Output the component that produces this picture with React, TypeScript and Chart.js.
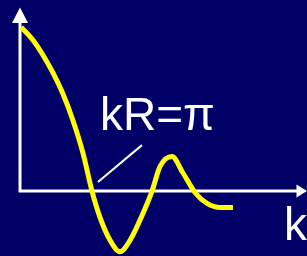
import React, { useEffect, useRef } from "react";
import { Chart, registerables } from "chart.js";

Chart.register(...registerables);

// kR values (first zero at π) and amplitude
const kR = [0.05, 0.57, 1.0, 1.44, 1.88, 2.31, 2.75, 3.14, 3.49, 3.93, 4.36, 4.8, 5.32, 5.76, 6.11, 6.63, 7.11, 7.64, 8.16, 8.73, 9.29];
const amplitude = [1.0, 0.92, 0.83, 0.72, 0.59, 0.43, 0.23, 0, -0.16, -0.3, -0.37, -0.3, -0.15, 0, 0.15, 0.21, 0.11, -0.01, -0.075, -0.1, -0.1];

const X_MIN = -0.873;
const X_MAX = 12.52;
const Y_MIN = -0.396;
const Y_MAX = 1.165;
const Y_AXIS_TOP = 1.119;

const labelText = "kR=π";
const labelPos = [3.49, 0.372];
const pointerFrom = [5.32, 0.28];
const pointerTo = [3.4, 0.055];
const axisLabel = "k";
const axisLabelPos = [11.52, -0.3];

const BG = "#000066";
const FONT = "46px 'Liberation Sans', Arial, sans-serif";

export default function App() {
  const ref = useRef<HTMLCanvasElement>(null);
  useEffect(() => {
    const canvas = ref.current!;
    const bgPlugin = {
      id: "bg",
      beforeDraw(chart: any) {
        const c = chart.ctx;
        c.save();
        c.fillStyle = BG;
        c.fillRect(0, 0, chart.width, chart.height);
        c.restore();
      },
    };
    const axesPlugin = {
      id: "axes",
      beforeDatasetsDraw(chart: any) {
        const c = chart.ctx;
        const xs = chart.scales.x;
        const ys = chart.scales.y;
        const x0 = xs.getPixelForValue(0);
        const y0 = ys.getPixelForValue(0);
        const xEnd = xs.getPixelForValue(X_MAX);
        const yTop = ys.getPixelForValue(Y_AXIS_TOP);
        c.save();
        c.strokeStyle = "#ffffff";
        c.fillStyle = "#ffffff";
        c.lineWidth = 3;
        c.beginPath();
        c.moveTo(x0, yTop + 12);
        c.lineTo(x0, y0);
        c.lineTo(xEnd - 8, y0);
        c.stroke();
        c.beginPath();
        c.moveTo(x0, yTop);
        c.lineTo(x0 - 8, yTop + 15.5);
        c.lineTo(x0 + 8, yTop + 15.5);
        c.closePath();
        c.fill();
        c.beginPath();
        c.moveTo(xEnd, y0);
        c.lineTo(xEnd - 10.5, y0 - 6.5);
        c.lineTo(xEnd - 10.5, y0 + 6.5);
        c.closePath();
        c.fill();
        c.restore();
      },
      afterDraw(chart: any) {
        const c = chart.ctx;
        const xs = chart.scales.x;
        const ys = chart.scales.y;
        c.save();
        c.strokeStyle = "#ffffff";
        c.lineWidth = 2;
        c.beginPath();
        c.moveTo(xs.getPixelForValue(pointerFrom[0]), ys.getPixelForValue(pointerFrom[1]));
        c.lineTo(xs.getPixelForValue(pointerTo[0]), ys.getPixelForValue(pointerTo[1]));
        c.stroke();
        c.fillStyle = "#ffffff";
        c.font = FONT;
        c.textBaseline = "alphabetic";
        c.textAlign = "left";
        c.fillText(labelText, xs.getPixelForValue(labelPos[0]), ys.getPixelForValue(labelPos[1]));
        c.fillText(axisLabel, xs.getPixelForValue(axisLabelPos[0]), ys.getPixelForValue(axisLabelPos[1]));
        c.restore();
      },
    };
    const chart = new Chart(canvas, {
      type: "line",
      data: {
        datasets: [
          {
            data: kR.map((x, i) => ({ x, y: amplitude[i] })),
            borderColor: "#ffff00",
            borderWidth: 5,
            pointRadius: 0,
            cubicInterpolationMode: "monotone",
            fill: false,
          },
        ],
      },
      options: {
        animation: false,
        responsive: false,
        maintainAspectRatio: false,
        layout: { padding: 0 },
        plugins: { legend: { display: false }, tooltip: { enabled: false } },
        scales: {
          x: { type: "linear", min: X_MIN, max: X_MAX, display: false },
          y: { type: "linear", min: Y_MIN, max: Y_MAX, display: false },
        },
      },
      plugins: [bgPlugin, axesPlugin],
    });
    return () => chart.destroy();
  }, []);
  return (
    <div style={{ position: "fixed", left: 0, top: 0, width: 307, height: 256 }}>
      <canvas ref={ref} width={307} height={256} style={{ display: "block" }} />
    </div>
  );
}
